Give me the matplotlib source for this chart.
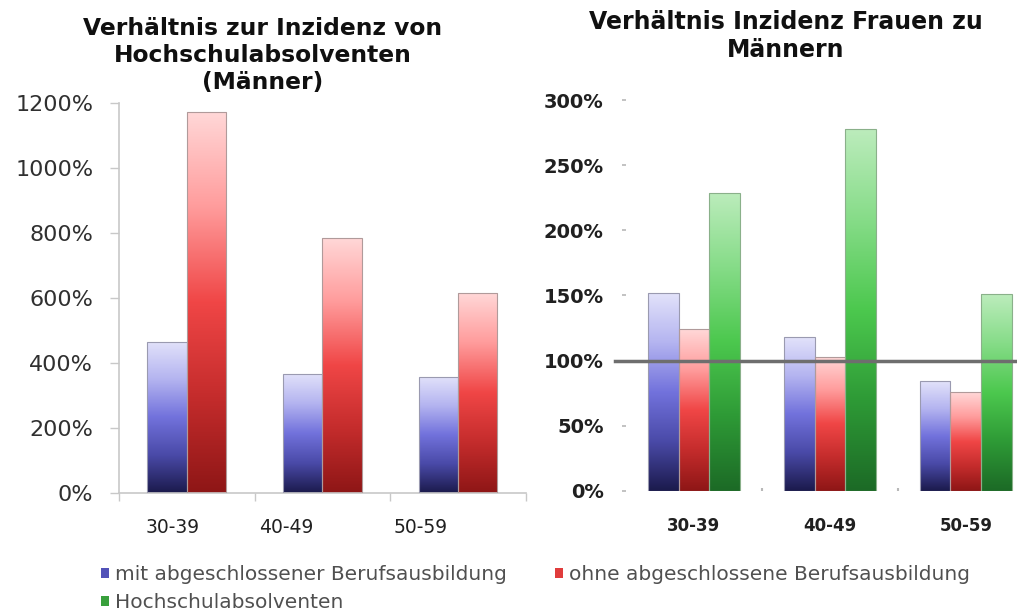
import numpy as np
import matplotlib.pyplot as plt
import matplotlib.transforms as mtransforms
from matplotlib.colors import LinearSegmentedColormap
from matplotlib.patches import Patch

# Altersgruppen und Verhältnisse in Prozent
gruppen = ['30-39', '40-49', '50-59']
maenner_mit = [465, 367, 358]
maenner_ohne = [1173, 784, 616]
frauen_mit = [152, 118, 84]
frauen_ohne = [124, 103, 76]
frauen_hs = [229, 278, 151]

serien = ['mit abgeschlossener Berufsausbildung',
          'ohne abgeschlossene Berufsausbildung',
          'Hochschulabsolventen']

# Farbverläufe von unten (dunkel) nach oben (hell)
blau = LinearSegmentedColormap.from_list(
    'blau', ['#1b1a4c', '#4a4aa8', '#7272dc', '#b4b4f0', '#e2e2fa'])
rot = LinearSegmentedColormap.from_list(
    'rot', ['#8e1616', '#c42c2c', '#f04646', '#ff9c9c', '#ffd8d8'])
gruen = LinearSegmentedColormap.from_list(
    'gruen', ['#1c6a26', '#2e9a36', '#4cc84e', '#86dc88', '#bcecbc'])

verlauf = np.linspace(0, 1, 256).reshape(-1, 1)


def balken(ax, x, werte, breite, cmap, farbe_kante):
    bars = ax.bar(x, werte, breite, facecolor='none', edgecolor=farbe_kante,
                  linewidth=0.8, zorder=3)
    for b in bars:
        x0, w, h = b.get_x(), b.get_width(), b.get_height()
        im = ax.imshow(verlauf, cmap=cmap, origin='lower', aspect='auto',
                       extent=[x0, x0 + w, 0, h], zorder=2, interpolation='bilinear')
        im.set_clip_path(b)
    return bars


fig = plt.figure(figsize=(10.17, 6.13), dpi=100)
x = np.arange(len(gruppen))

# linkes Diagramm: Männer
ax1 = fig.add_axes([0.117, 0.195, 0.400, 0.637])
balken(ax1, x - 0.145, maenner_mit, 0.29, blau, '#9a9ab0')
balken(ax1, x + 0.145, maenner_ohne, 0.29, rot, '#b09a9a')
ax1.set_xlim(-0.5, 2.5)
ax1.set_ylim(0, 1200)
ax1.set_yticks(np.arange(0, 1201, 200))
ax1.set_yticklabels([f'{v}%' for v in range(0, 1201, 200)])
ax1.set_xticks(x)
ax1.set_xticklabels(gruppen)
ax1.set_xticks([-0.5, 0.5, 1.5, 2.5], minor=True)
ax1.tick_params(axis='y', length=6.5, width=1, color='#c8c8c8', pad=12,
                labelsize=16, labelcolor='#303030')
ax1.tick_params(axis='x', which='major', length=0, pad=18, labelsize=13.5,
                labelcolor='#202020')
ax1.tick_params(axis='x', which='minor', length=6, width=1, color='#c8c8c8')
for s in ['top', 'right']:
    ax1.spines[s].set_visible(False)
for s in ['left', 'bottom']:
    ax1.spines[s].set_color('#c8c8c8')
    ax1.spines[s].set_linewidth(1.2)

# Beschriftungen der Altersgruppen etwas nach links gerückt
for lbl, dx in zip(ax1.get_xticklabels(), [-14, -36, -37]):
    lbl.set_transform(lbl.get_transform() +
                      mtransforms.ScaledTranslation(dx / 100, 0, fig.dpi_scale_trans))

fig.text(263 / 1017, 1 - 17 / 613,
         'Verhältnis zur Inzidenz von\nHochschulabsolventen\n(Männer)',
         ha='center', va='top', fontsize=16.8, fontweight='bold',
         linespacing=1.22, color='#101010')

# rechtes Diagramm: Frauen zu Männern
ax2 = fig.add_axes([0.6155, 0.1995, 0.401, 0.637])
balken(ax2, x - 0.226, frauen_mit, 0.226, blau, '#9a9ab0')
balken(ax2, x, frauen_ohne, 0.226, rot, '#b09a9a')
balken(ax2, x + 0.226, frauen_hs, 0.226, gruen, '#8ab08a')
ax2.axhline(100, xmin=-0.028, xmax=1, color='#6e6e6e', linewidth=2.5,
            zorder=4, clip_on=False)
ax2.set_xlim(-0.5, 2.5)
ax2.set_ylim(0, 300)
ax2.set_yticks(np.arange(0, 301, 50))
ax2.set_yticklabels([f'{v}%' for v in range(0, 301, 50)])
ax2.set_xticks(x)
ax2.set_xticklabels(gruppen)
ax2.set_xticks([0.5, 1.5], minor=True)
ax2.tick_params(axis='y', length=3, width=1.2, color='#b8b8b8', pad=13,
                labelsize=14)
ax2.tick_params(axis='x', which='major', length=0, pad=19, labelsize=12)
ax2.tick_params(axis='x', which='minor', length=2.5, width=1.5,
                color='#b8b8b8', direction='in')
for lbl in ax2.get_yticklabels() + ax2.get_xticklabels():
    lbl.set_fontweight('bold')
    lbl.set_color('#202020')
for s in ax2.spines.values():
    s.set_visible(False)

fig.text(786 / 1017, 1 - 10 / 613, 'Verhältnis Inzidenz Frauen zu\nMännern',
         ha='center', va='top', fontsize=17, fontweight='bold',
         linespacing=1.2, color='#101010')

# gemeinsame Legende
griffe = [Patch(facecolor='#5252b8', label=serien[0]),
          Patch(facecolor='#38a03c', label=serien[2]),
          Patch(facecolor='#e03c3c', label=serien[1])]
fig.legend(handles=griffe, ncol=2, loc='upper left',
           bbox_to_anchor=(101 / 1017, 1 - 565 / 613), frameon=False,
           fontsize=14.5, labelcolor='#505050', handlelength=0.4,
           handleheight=0.4, handletextpad=0.3, columnspacing=2.4,
           labelspacing=0.45, borderpad=0, borderaxespad=0)

fig.savefig('out.png', dpi=100)
